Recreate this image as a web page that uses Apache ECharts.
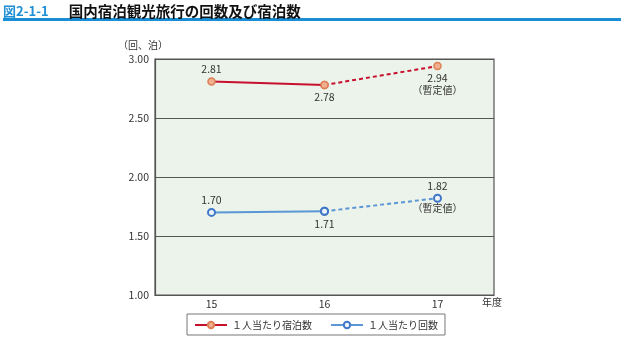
<!DOCTYPE html>
<html><head><meta charset="utf-8">
<script src="https://cdn.jsdelivr.net/npm/echarts@6/dist/echarts.min.js"></script>
<style>html,body{margin:0;padding:0;background:#fff}#c{width:624px;height:342px}</style>
</head><body><div id="c"></div>
<script>
const categories = ['15', '16', '17'];
const stayNights = [2.81, 2.78, 2.94];   // 1人当たり宿泊数
const tripCounts = [1.70, 1.71, 1.82];   // 1人当たり回数
const yTicks = [1.00, 1.50, 2.00, 2.50, 3.00];
const provisionalNote = '（暫定値）';

const FONT = '"Noto Sans CJK JP", "Noto Sans", sans-serif';
const chart = echarts.init(document.getElementById('c'));

function mk(vals, idx, positions, provisionalIdx) {
  return vals.map((v, i) => {
    if (!idx.includes(i)) return null;
    const p = positions[i];
    return {
      value: v,
      label: {
        show: p !== null,
        position: p || 'top',
        formatter: i === provisionalIdx ? '{v|' + v.toFixed(2) + '}\n{n|' + provisionalNote + '}' : v.toFixed(2),
      }
    };
  });
}
const lblBase = {
  color: '#333', fontSize: 10.5, fontFamily: FONT, distance: 2, lineHeight: 12,
  rich: { v: { color: '#333', fontSize: 10.5, fontFamily: FONT, lineHeight: 12, align: 'center' },
          n: { color: '#333', fontSize: 10, fontFamily: FONT, lineHeight: 12, align: 'center' } }
};
const red = '#c8102e';
const blue = '#5b96d6', blueBorder = '#3f78c8';

const redSym = { color: '#f0b090', borderColor: '#dd7f55', borderWidth: 1.5 };
const blueSym = { color: '#eef4fc', borderColor: blueBorder, borderWidth: 2 };

function graphics(p) {
  const g = [
    { type: 'rect', shape: { x: 3, y: 18, width: 618, height: 3 }, style: { fill: '#1a8ed4' } },
    { type: 'text', left: 118, top: 40, style: { text: '（回、泊）', fill: '#333', font: '10px ' + FONT } },
    { type: 'text', left: 482, top: 297, style: { text: '年度', fill: '#333', font: '10px ' + FONT } }
  ];
  if (p) g.push({ type: 'text', x: p[0], y: p[1] + 5, style: { text: provisionalNote, fill: '#333', font: '10px ' + FONT, align: 'center', verticalAlign: 'top' } });
  return g;
}

chart.setOption({
  animation: false,
  title: {
    text: '{a|図2-1-1}    {b|国内宿泊観光旅行の回数及び宿泊数}',
    left: -2, top: -3,
    textStyle: { rich: {
      a: { color: '#1f8fd6', fontSize: 13, fontWeight: 'bold', fontFamily: FONT },
      b: { color: '#111', fontSize: 14.5, fontWeight: 'bold', fontFamily: FONT }
    } }
  },
  graphic: graphics(null),
  grid: { left: 155, right: 130, top: 59, bottom: 47, show: true, backgroundColor: '#ecf3ea', borderColor: '#555', borderWidth: 1.2 },
  legend: {
    left: 187, top: 314, itemGap: 18, padding: [6, 7, 5, 7],
    borderColor: '#777', borderWidth: 1, borderRadius: 0,
    itemWidth: 32, itemHeight: 8,
    data: ['１人当たり宿泊数', '１人当たり回数'],
    textStyle: { color: '#333', fontSize: 10, fontFamily: FONT }
  },
  xAxis: {
    type: 'category', data: categories, boundaryGap: true,
    axisLine: { lineStyle: { color: '#555', width: 1.2 } },
    axisTick: { inside: true, length: 5, lineStyle: { color: '#555' } },
    axisLabel: { color: '#333', fontSize: 10.5, fontFamily: FONT, margin: 4 }
  },
  yAxis: {
    type: 'value', min: yTicks[0], max: yTicks[yTicks.length - 1], interval: 0.5,
    axisLine: { show: true, lineStyle: { color: '#555', width: 1.2 } },
    axisTick: { show: false },
    splitLine: { lineStyle: { color: '#555', width: 1 } },
    axisLabel: { color: '#333', fontSize: 10.5, fontFamily: FONT, margin: 6, formatter: v => v.toFixed(2) }
  },
  series: [
    { name: '１人当たり宿泊数', type: 'line', data: mk(stayNights, [0, 1], ['top', 'bottom', null], -1),
      lineStyle: { color: red, width: 2 }, itemStyle: redSym, symbol: 'circle', symbolSize: 7, label: lblBase, z: 3 },
    { name: 'stay-prov', type: 'line', data: mk(stayNights, [1, 2], [null, null, 'bottom'], 2),
      lineStyle: { color: red, width: 2, type: [4, 3] }, itemStyle: redSym, symbol: 'circle', symbolSize: 7, label: lblBase, z: 2 },
    { name: '１人当たり回数', type: 'line', data: mk(tripCounts, [0, 1], ['top', 'bottom', null], -1),
      lineStyle: { color: blue, width: 2 }, itemStyle: blueSym, symbol: 'circle', symbolSize: 7, label: lblBase, z: 3 },
    { name: 'trip-prov', type: 'line', data: mk(tripCounts, [1, 2], [null, null, 'top'], -1),
      lineStyle: { color: blue, width: 2, type: [4, 3] }, itemStyle: blueSym, symbol: 'circle', symbolSize: 7, label: lblBase, z: 2 }
  ]
});
const p = chart.convertToPixel({ gridIndex: 0 }, [2, tripCounts[2]]);
chart.setOption({ graphic: graphics(p) }, { replaceMerge: ['graphic'] });
</script></body></html>
